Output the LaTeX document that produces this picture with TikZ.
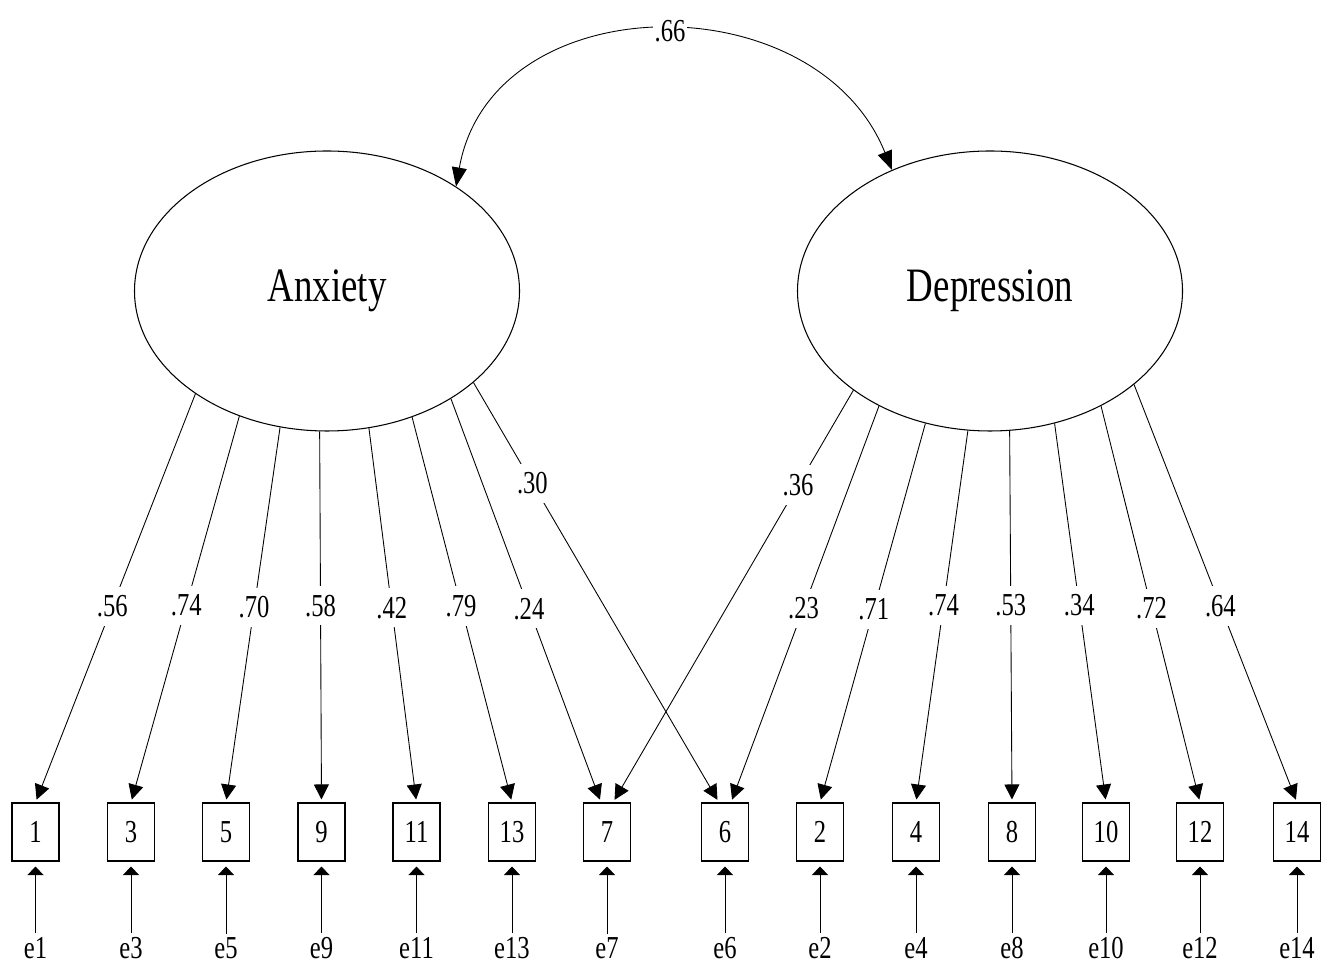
\documentclass[tikz,border=0pt]{standalone}
\usepackage{graphicx}
\usepackage{fontspec}
\setmainfont{Liberation Serif}
\usetikzlibrary{shapes.geometric,arrows.meta}

% the printed labels are a little taller than wide
\newcommand{\tall}[1]{\scalebox{1}[1.3]{#1}}

\tikzset{
  latent/.style={draw, ellipse, line width=0.6pt, minimum width=7.7cm, minimum height=5.6cm, inner sep=0pt, font=\fontsize{21}{24}\selectfont},
  item/.style={draw, rectangle, line width=0.6pt, minimum width=0.94cm, minimum height=1.16cm, inner sep=0pt, font=\fontsize{14}{16}\selectfont},
  err/.style={inner sep=2pt, font=\fontsize{14}{16}\selectfont},
  coef/.style={fill=white, inner xsep=1pt, inner ysep=5pt, font=\fontsize{14}{16}\selectfont},
  load/.style={-{Triangle[length=0.3cm,width=0.3cm]}, line width=0.5pt, shorten >=0.06cm},
  errarr/.style={-{Triangle[length=0.17cm,width=0.32cm]}, line width=0.5pt, shorten >=0.1cm},
  cov/.style={{Triangle[length=0.38cm,width=0.3cm]}-{Triangle[length=0.38cm,width=0.3cm]}, line width=0.5pt}
}

\begin{document}
\begin{tikzpicture}
  \useasboundingbox (0,0) rectangle (26.5,19.34);

  \node[latent] (anx) at (6.54,13.52) {\tall{Anxiety}};
  \node[latent] (dep) at (19.8,13.52) {\tall{Depression}};

  % items and error terms
  \foreach \x/\n in {0.71/1, 2.62/3, 4.52/5, 6.43/9, 8.33/11, 10.24/13, 12.14/7, 14.5/6, 16.4/2, 18.32/4, 20.24/8, 22.12/10, 24.0/12, 25.94/14} {
    \node[item] (i\n) at (\x,2.7) {\tall{\n}};
    \node[err] (e\n) at (\x,0.38) {\tall{e\n}};
    \draw[errarr] (e\n) -- (i\n);
  }

  % loadings
  \foreach \ang/\n/\w/\p/\sh in {218/1/.56/0.52/0, 235/3/.74/0.49/0, 251/5/.70/0.48/0, 267.5/9/.58/0.47/0, 287/11/.42/0.48/0, 304.5/13/.79/0.49/0, 319/7/.24/0.52/-0.12, 328/6/.30/0.24/-0.12}
    \draw[load] (anx.\ang) -- node[coef,pos=\p]{\tall{\w}} ([xshift=\sh cm]i\n.north);
  \foreach \ang/\n/\w/\p/\sh in {216/7/.36/0.23/0.12, 226/6/.23/0.51/0.12, 244/2/.71/0.49/0, 261.5/4/.74/0.47/0, 278/8/.53/0.47/0, 296/10/.34/0.48/0, 314/12/.72/0.51/0, 327/14/.64/0.53/0}
    \draw[load] (dep.\ang) -- node[coef,pos=\p]{\tall{\w}} ([xshift=\sh cm]i\n.north);

  \draw[cov] (anx.39) to[out=80,in=112,looseness=1.2] node[coef,pos=0.52]{\tall{.66}} (dep.129);
\end{tikzpicture}
\end{document}
